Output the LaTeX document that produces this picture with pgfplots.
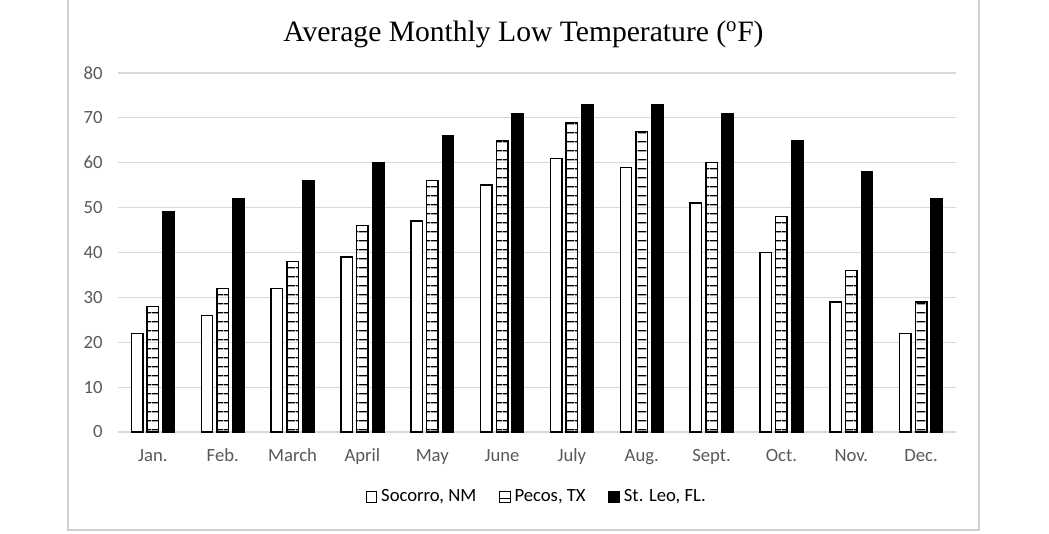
\documentclass[border=0pt]{standalone}
\usepackage{pgfplots}
\pgfplotsset{compat=1.18}
\usepackage{fontspec}
\setmainfont{Liberation Serif}
\newfontfamily\carlito{Carlito}
\usetikzlibrary{patterns.meta}
\definecolor{gridgray}{HTML}{D9D9D9}
\definecolor{tickgray}{HTML}{595959}
\definecolor{framegray}{HTML}{D0D0D0}
\begin{document}
\begin{tikzpicture}
\useasboundingbox (0pt,0pt) rectangle (786.75pt,399.75pt);
\fill[white] (0pt,0pt) rectangle (786.75pt,399.75pt);
\draw[framegray, line width=1.1pt] (51pt,2.25pt) rectangle (734.25pt,430pt);
\node[font=\fontsize{22.2}{26}\selectfont] at (392.6pt,374pt) {Average Monthly Low Temperature (\textsuperscript{o}F)};
\begin{axis}[
  at={(88.5pt,75.75pt)}, anchor=south west,
  scale only axis, width=628.5pt, height=269.25pt,
  xmin=-0.5, xmax=11.5, ymin=0, ymax=80,
  ytick={0,10,...,80},
  xtick={0,...,11},
  xticklabels={Jan.,Feb.,March,April,May,June,July,Aug.,Sept.,Oct.,Nov.,Dec.},
  ymajorgrids,
  major grid style={color=gridgray, line width=0.8pt},
  axis line style={draw=none},
  tick style={draw=none},
  major tick length=0pt,
  /pgf/number format/assume math mode=true,
  ticklabel style={font=\carlito\fontsize{14}{16}\selectfont, text=tickgray},
  yticklabel style={xshift=-8pt},
  xticklabel style={yshift=-9pt, text height=9.5pt, text depth=3pt},
  ybar, bar width=8.6pt,
  legend style={at={(0.5,-0.181)}, anchor=center, draw=none, fill=none,
    legend columns=3, font=\carlito\fontsize{14}{16}\selectfont, text=black,
    nodes={text height=9.5pt, text depth=3pt},
    /tikz/every odd column/.append style={column sep=1pt},
    /tikz/every even column/.append style={column sep=15pt}},
  legend image code/.code={\draw[#1, line width=0.7pt] (0pt,-4pt) rectangle (8pt,4pt);},
]
\addplot[bar shift=-11.8pt, draw=black, fill=white, line width=1.1pt] coordinates {
(0,22) (1,26) (2,32) (3,39) (4,47) (5,55) (6,61) (7,59) (8,51) (9,40) (10,29) (11,22)};
\addplot[bar shift=0pt, draw=black, pattern={Lines[angle=0,distance=6.5pt,line width=1pt]}, pattern color=black, line width=1.1pt] coordinates {
(0,28) (1,32) (2,38) (3,46) (4,56) (5,65) (6,69) (7,67) (8,60) (9,48) (10,36) (11,29)};
\addplot[bar shift=11.8pt, draw=black, fill=black, line width=1.1pt] coordinates {
(0,49) (1,52) (2,56) (3,60) (4,66) (5,71) (6,73) (7,73) (8,71) (9,65) (10,58) (11,52)};
\legend{{Socorro, NM}, {Pecos, TX}, {St. Leo, FL.}}
\end{axis}
\end{tikzpicture}
\end{document}
